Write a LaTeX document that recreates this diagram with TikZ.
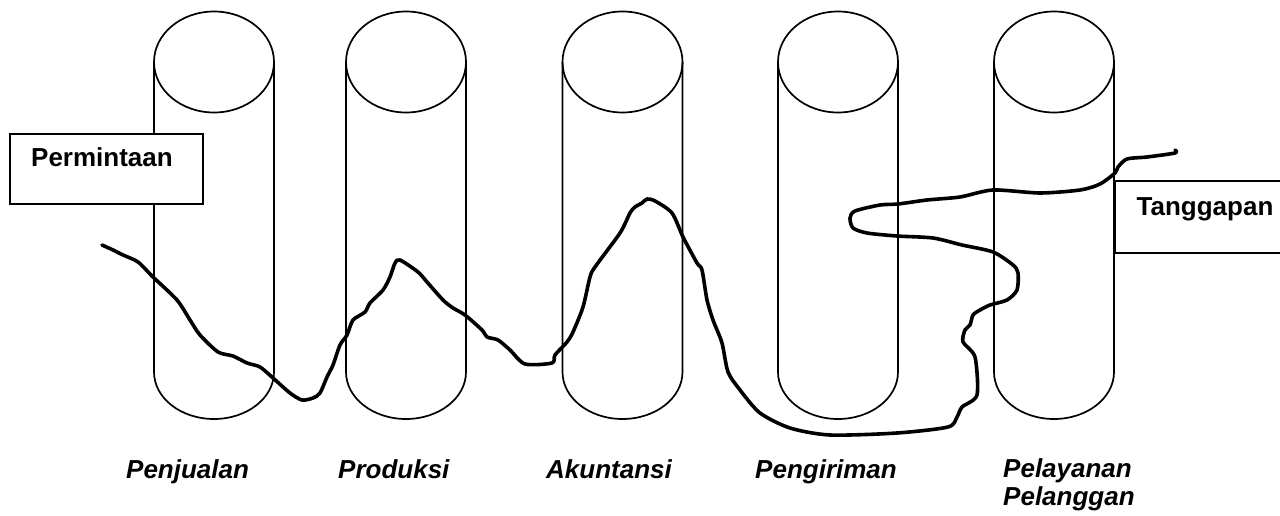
\documentclass[tikz,border=0pt]{standalone}
\usepackage{fontspec}
\setmainfont{Liberation Sans}
\begin{document}
\begin{tikzpicture}[x=1pt,y=-1pt,
  cylline/.style={line width=1.7pt},
  boxnode/.style={draw, line width=1.8pt, fill=white, inner sep=0pt},
  boxtext/.style={font=\fontsize{26}{30}\selectfont\bfseries, inner sep=0pt, anchor=base},
  deptlabel/.style={font=\fontsize{26}{28}\selectfont\bfseries\itshape, inner sep=0pt, anchor=base west, align=left},
  flowline/.style={line width=3.6pt, line cap=round, line join=round}]
\useasboundingbox (0,0) rectangle (1280,516);
% cylinders
\foreach \cx/\nm in {214/c1,406/c2,622.5/c3,838/c4,1054/c5}{
  \coordinate (\nm) at (\cx,62);
  \draw[cylline] (\cx,62) ellipse [x radius=60pt, y radius=50.5pt];
  \draw[cylline] (\cx-60,62) -- (\cx-60,372) arc[start angle=180, end angle=360, x radius=60pt, y radius=47pt] -- (\cx+60,62);
}
% boxes
\node[boxnode, minimum width=193pt, minimum height=70pt, anchor=north west] (perm) at (9,133) {};
\node[boxtext] (permtxt) at (102,167) {Permintaan};
\node[boxnode, minimum width=190pt, minimum height=72pt, anchor=north west] (tang) at (1114,180) {};
\node[boxtext] (tangtxt) at (1205,215) {Tanggapan};
% labels
\node[deptlabel] (l1) at (126,478) {Penjualan};
\node[deptlabel] (l2) at (338,478) {Produksi};
\node[deptlabel] (l3) at (546,478) {Akuntansi};
\node[deptlabel] (l4) at (755,478) {Pengiriman};
\node[deptlabel] (l5) at (1003,477) {Pelayanan};
\node[deptlabel] (l6) at (1003,505) {Pelanggan};
% flow curve
\draw[flowline] plot[smooth, tension=0.45] coordinates {
(102,245) (113,250) (123,255) (138,262) (153,277) (177,300) (190,320) (200,335) (218,352) (233,356) (247,363) (260,367) (273,378) (290,393) (302,400) (313,398) (320,393) (327,377) (333,365) (340,345) (347,335) (353,320) (365,312) (370,303) (383,290) (390,277) (395,263) (400,260) (418,272) (427,282) (443,300) (453,308) (465,315) (482,330) (487,337) (498,340) (510,350) (525,364) (552,363) (555,355) (567,342) (573,332) (583,307) (590,277) (595,267) (620,233) (630,213) (635,207) (642,203) (647,199) (655,201) (672,213) (683,237) (697,263) (702,270) (707,300) (713,320) (722,343) (728,372) (740,390) (760,413) (790,428) (830,435) (897,433) (948,427) (957,417) (962,407) (977,395) (975,357) (963,342) (965,330) (970,325) (973,315) (980,310) (990,305) (1007,300) (1017,290) (1018,273) (1013,265) (993,252) (962,245) (933,238) (897,236) (867,233) (853,228) (850,218) (855,211) (880,205) (898,204) (927,200) (960,197) (993,190) (1040,193) (1080,190) (1100,184) (1115,173) (1118,167) (1127,159) (1147,157) (1175,153) (1175,150)};
\end{tikzpicture}
\end{document}
